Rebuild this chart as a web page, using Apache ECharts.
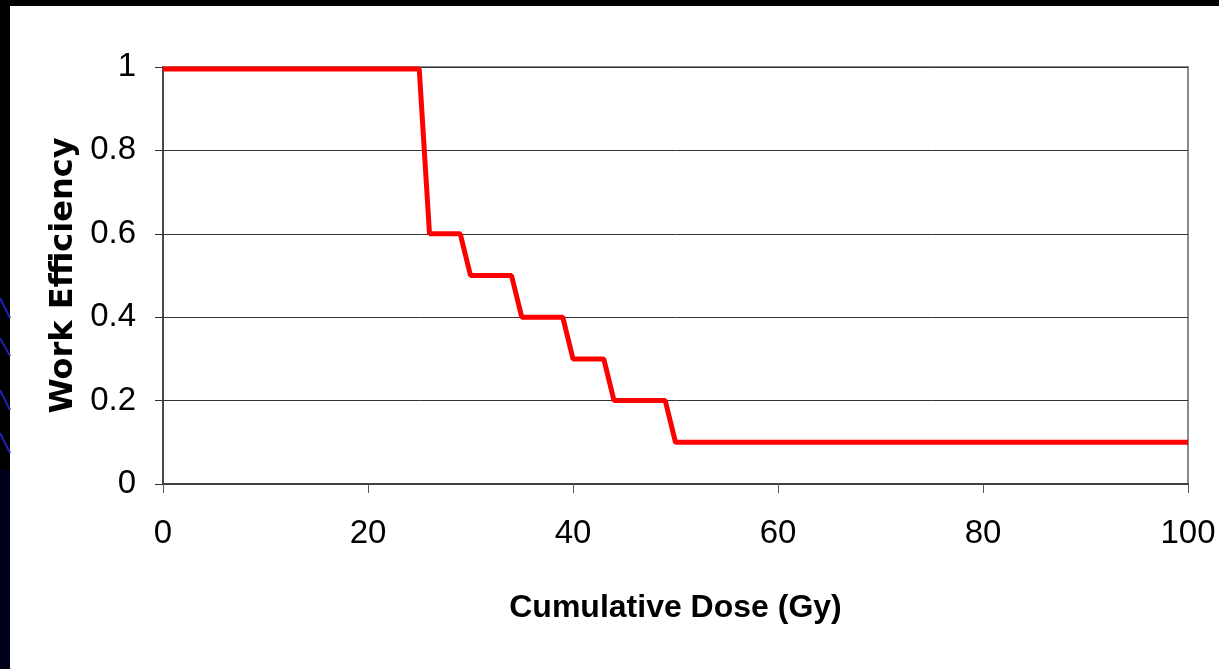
<!DOCTYPE html>
<html>
<head>
<meta charset="utf-8">
<script src="https://cdn.jsdelivr.net/npm/echarts@6/dist/echarts.min.js"></script>
<style>
html,body{margin:0;padding:0;background:#000;}
#chart{width:1219px;height:669px;}
</style>
</head>
<body>
<div id="chart"></div>
<script>
// Data
var dose = [0, 25, 26, 29, 30, 34, 35, 39, 40, 43, 44, 49, 50, 100];
var efficiency = [0.995, 0.995, 0.6, 0.6, 0.5, 0.5, 0.4, 0.4, 0.3, 0.3, 0.2, 0.2, 0.1, 0.1];
var xTicks = [0, 20, 40, 60, 80, 100];
var yTicks = [0, 0.2, 0.4, 0.6, 0.8, 1];
var xTitle = 'Cumulative Dose (Gy)';
var yTitle = 'Work Efficiency';

var seriesData = dose.map(function (d, i) { return [d, efficiency[i]]; });

var chart = echarts.init(document.getElementById('chart'));
chart.setOption({
  backgroundColor: '#ffffff',
  animation: false,
  grid: {
    left: 163, right: 31, top: 67, bottom: 185,
    show: true, borderColor: '#8a8a8a', borderWidth: 2, backgroundColor: 'transparent'
  },
  xAxis: {
    type: 'value',
    min: xTicks[0], max: xTicks[xTicks.length - 1], interval: 20,
    name: xTitle,
    nameLocation: 'middle',
    nameGap: 108,
    nameTextStyle: { fontFamily: 'Liberation Sans', fontWeight: 'bold', fontSize: 32, color: '#000' },
    axisLine: { show: true, lineStyle: { color: '#404040', width: 2 } },
    axisTick: { show: true, inside: false, length: 9, lineStyle: { color: '#555', width: 1 } },
    axisLabel: { margin: 33, fontFamily: 'Liberation Sans', fontSize: 33, color: '#000' },
    splitLine: { show: false }
  },
  yAxis: {
    type: 'value',
    min: yTicks[0], max: yTicks[yTicks.length - 1], interval: 0.2,
    name: yTitle,
    nameLocation: 'middle',
    nameGap: 82,
    nameRotate: 90,
    nameTextStyle: { fontFamily: 'DejaVu Sans', fontWeight: 'bold', fontSize: 32, color: '#000' },
    axisLine: { show: true, lineStyle: { color: '#333', width: 1.5 } },
    axisTick: { show: true, inside: false, length: 8, lineStyle: { color: '#333', width: 1 } },
    axisLabel: { margin: 27, fontFamily: 'Liberation Sans', fontSize: 33, color: '#000' },
    splitLine: { show: true, lineStyle: { color: '#333', width: 1 } }
  },
  series: [{
    type: 'line',
    data: seriesData,
    showSymbol: false,
    lineStyle: { color: '#ff0000', width: 5 },
    itemStyle: { color: '#ff0000' },
    z: 5
  }],
  graphic: [
    { type: 'rect', shape: { x: 0, y: 0, width: 1219, height: 6 }, style: { fill: '#000' }, z: 100 },
    { type: 'rect', shape: { x: 0, y: 0, width: 10, height: 669 }, style: { fill: '#000' }, z: 100 },
    { type: 'rect', shape: { x: 0, y: 470, width: 10, height: 199 }, style: { fill: '#00001a' }, z: 101 },
    { type: 'line', shape: { x1: 0, y1: 298, x2: 10, y2: 318 }, style: { stroke: '#2020c0', lineWidth: 2 }, z: 102 },
    { type: 'line', shape: { x1: 0, y1: 338, x2: 10, y2: 356 }, style: { stroke: '#2020b0', lineWidth: 2 }, z: 102 },
    { type: 'line', shape: { x1: 0, y1: 390, x2: 10, y2: 410 }, style: { stroke: '#2020c0', lineWidth: 2 }, z: 102 },
    { type: 'line', shape: { x1: 0, y1: 433, x2: 10, y2: 453 }, style: { stroke: '#2020c0', lineWidth: 2 }, z: 102 }
  ]
});
</script>
</body>
</html>
